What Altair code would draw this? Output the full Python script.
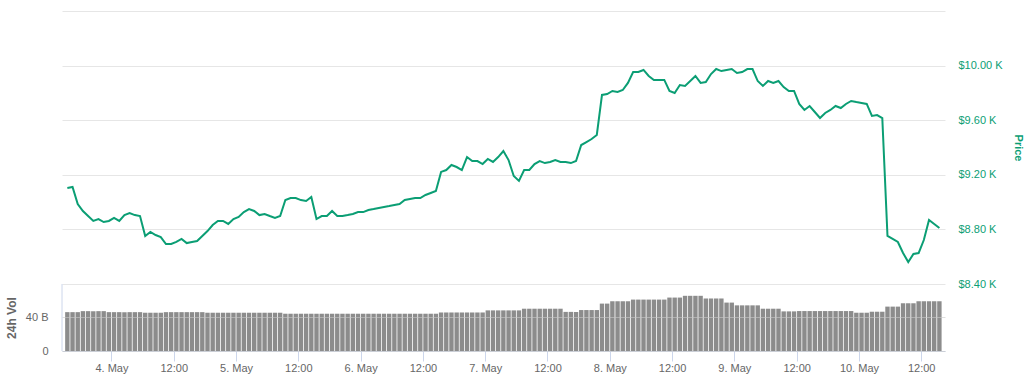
import altair as alt
import pandas as pd

# ---- data (hourly, starting 3 May 2020 15:30) ----
start_time = "2020-05-03 15:30"

prices = [
    9103, 9111, 8986, 8935, 8898, 8862, 8876, 8854, 8862, 8884,
    8862, 8905, 8920, 8905, 8898, 8752, 8781, 8759, 8744, 8693,
    8693, 8708, 8730, 8700, 8708, 8715, 8752, 8788, 8832, 8862,
    8862, 8840, 8876, 8891, 8927, 8949, 8935, 8905, 8913, 8898,
    8884, 8898, 9015, 9030, 9030, 9015, 9008, 9037, 8876, 8898,
    8898, 8935, 8898, 8898, 8905, 8913, 8927, 8927, 8942, 8949,
    8957, 8964, 8971, 8979, 8986, 9015, 9023, 9030, 9030, 9052,
    9067, 9081, 9221, 9235, 9272, 9257, 9235, 9330, 9301, 9301,
    9279, 9316, 9294, 9330, 9374, 9308, 9191, 9155, 9235, 9235,
    9279, 9301, 9286, 9294, 9308, 9294, 9294, 9286, 9301, 9418,
    9440, 9462, 9492, 9785, 9792, 9814, 9807, 9821, 9873, 9953,
    9953, 9968, 9924, 9895, 9895, 9895, 9814, 9799, 9858, 9851,
    9887, 9924, 9873, 9880, 9938, 9975, 9960, 9968, 9975, 9946,
    9953, 9975, 9975, 9887, 9851, 9887, 9873, 9887, 9843, 9814,
    9814, 9719, 9675, 9704, 9660, 9616, 9653, 9675, 9704, 9689,
    9719, 9741, 9733, 9726, 9719, 9631, 9638, 9616, 8752, 8730,
    8708, 8627, 8561, 8620, 8627, 8722, 8869, 8840, 8810,
]

volumes_b = [
    46.4, 46.4, 46.4, 47.6, 47.6, 47.6, 47.6, 47.6, 46.4, 46.4,
    46.4, 46.4, 46.4, 46.4, 46.4, 45.7, 45.7, 45.7, 45.7, 46.4,
    46.4, 46.4, 46.4, 46.4, 46.4, 46.4, 46.4, 45.7, 45.7, 45.7,
    45.7, 45.7, 45.7, 45.7, 45.7, 45.7, 45.7, 45.7, 45.7, 45.7,
    45.7, 45.7, 44.5, 44.5, 44.5, 44.5, 44.5, 44.5, 44.5, 44.5,
    44.5, 44.5, 44.5, 44.5, 44.5, 44.5, 44.5, 44.5, 44.5, 44.5,
    44.5, 44.5, 44.5, 44.5, 44.5, 44.5, 44.5, 44.5, 44.5, 44.5,
    44.5, 44.5, 46.0, 46.0, 46.0, 46.0, 46.0, 46.0, 46.0, 46.0,
    46.0, 48.5, 48.5, 48.5, 48.5, 48.5, 48.5, 48.5, 50.5, 50.5,
    50.5, 50.5, 50.5, 50.5, 50.5, 50.5, 46.7, 46.7, 46.7, 48.9,
    48.9, 48.9, 48.9, 56.6, 56.6, 59.4, 59.4, 59.4, 59.4, 61.4,
    61.4, 61.4, 61.4, 61.4, 61.4, 61.4, 63.8, 63.8, 63.8, 65.9,
    65.9, 65.9, 65.9, 62.7, 62.7, 62.7, 62.7, 57.8, 57.8, 54.5,
    54.5, 54.5, 54.5, 54.5, 50.5, 50.5, 50.5, 50.5, 47.3, 47.3,
    47.3, 47.7, 47.7, 47.7, 47.7, 47.7, 47.7, 47.7, 47.7, 47.7,
    47.7, 47.7, 45.7, 45.7, 45.7, 46.9, 46.9, 46.9, 53.0, 53.0,
    53.0, 57.0, 57.0, 57.0, 59.4, 59.4, 59.4, 59.4, 59.4,
]

# x-axis tick positions (day, hour) every 12 hours
x_tick_days = [4, 4, 5, 5, 6, 6, 7, 7, 8, 8, 9, 9, 10, 10]
x_tick_hours = [0, 12, 0, 12, 0, 12, 0, 12, 0, 12, 0, 12, 0, 12]
price_ticks = [8400, 8800, 9200, 9600, 10000, 10400]
volume_ticks = [0, 40]
price_title = ["Price"]
volume_title = ["24h Vol"]

# ---- styling ----
FONT = "Liberation Sans"
GREEN = "#0b9e74"
GRAY_TEXT = "#666666"
AXIS_LINE = "#ccd6eb"
GRID = "#e6e6e6"

times = pd.date_range(start_time, periods=len(prices), freq="h")
df = pd.DataFrame({"time": times, "price": prices, "vol": volumes_b})

x_domain = [
    alt.DateTime(year=2020, month=5, date=3, hours=15, minutes=26),
    alt.DateTime(year=2020, month=5, date=10, hours=15, minutes=37),
]
x_values = [
    alt.DateTime(year=2020, month=5, date=d, hours=h)
    for d, h in zip(x_tick_days, x_tick_hours)
]

# price domain extended below so the price panel occupies the top 273 px of 340
price_domain = [7909.2, 10400]
# volume domain extended above so 0..80 B occupies the bottom 67 px of 340
volume_domain = [0, 405.97]

x_axis = alt.Axis(
    title=None,
    values=x_values,
    labelExpr="timeFormat(datum.value, '%H') == '00' ? trim(timeFormat(datum.value, '%e')) + '. ' + timeFormat(datum.value, '%b') : timeFormat(datum.value, '%H:%M')",
    tickSize=10,
    tickColor=AXIS_LINE,
    domainColor=AXIS_LINE,
    labelColor=GRAY_TEXT,
    labelFont=FONT,
    labelFontSize=11,
    labelPadding=1,
    grid=False,
)

x_enc = alt.X("time:T", scale=alt.Scale(domain=x_domain), axis=x_axis)

bars = alt.Chart(df).mark_bar(color="#8c8c8c", size=4.4).encode(
    x=x_enc,
    y=alt.Y(
        "vol:Q",
        scale=alt.Scale(domain=volume_domain, nice=False, zero=True),
        axis=alt.Axis(
            orient="left",
            values=volume_ticks,
            title=None,
            labelExpr="datum.value == 0 ? '0' : datum.value + ' B'",
            domain=False,
            ticks=False,
            labelPadding=14,
            grid=True,
            gridColor="#c8c8c8",
            gridOpacity=0.6,
            zindex=1,
            labelColor=GRAY_TEXT,
            labelFont=FONT,
            labelFontSize=11,
        ),
    ),
)

line = alt.Chart(df).mark_line(color=GREEN, strokeWidth=2).encode(
    x=alt.X("time:T", scale=alt.Scale(domain=x_domain)),
    y=alt.Y(
        "price:Q",
        scale=alt.Scale(domain=price_domain, nice=False, zero=False),
        axis=alt.Axis(
            orient="right",
            values=price_ticks,
            title=None,
            labelExpr="datum.value > 10000 ? '' : '$' + format(datum.value / 1000, '.2f') + ' K'",
            domain=False,
            ticks=False,
            labelPadding=13,
            grid=True,
            gridColor=GRID,
            labelColor=GREEN,
            labelFont=FONT,
            labelFontSize=11,
        ),
    ),
)

vol_border = alt.Chart(pd.DataFrame({"a": [0]})).mark_rule(color=AXIS_LINE).encode(
    x=alt.value(0), y=alt.value(273), y2=alt.value(340)
)

price_label = alt.Chart(pd.DataFrame({"t": price_title})).mark_text(
    angle=90, font=FONT, fontSize=11, fontWeight="bold", color=GREEN
).encode(text="t:N", x=alt.value(956), y=alt.value(137))

vol_label = alt.Chart(pd.DataFrame({"t": volume_title})).mark_text(
    angle=270, font=FONT, fontSize=12, fontWeight="bold", color=GRAY_TEXT
).encode(text="t:N", x=alt.value(-50), y=alt.value(307))

chart = (
    alt.layer(bars, line, vol_border, price_label, vol_label)
    .resolve_scale(y="independent")
    .resolve_axis(y="independent")
    .properties(
        width=883,
        height=340,
        padding={"left": 62, "top": 11, "right": 88, "bottom": 27},
        autosize="none",
        background="white",
    )
    .configure_view(stroke=None)
)

chart.save("out.html", embed_options={"renderer": "svg", "actions": False})
